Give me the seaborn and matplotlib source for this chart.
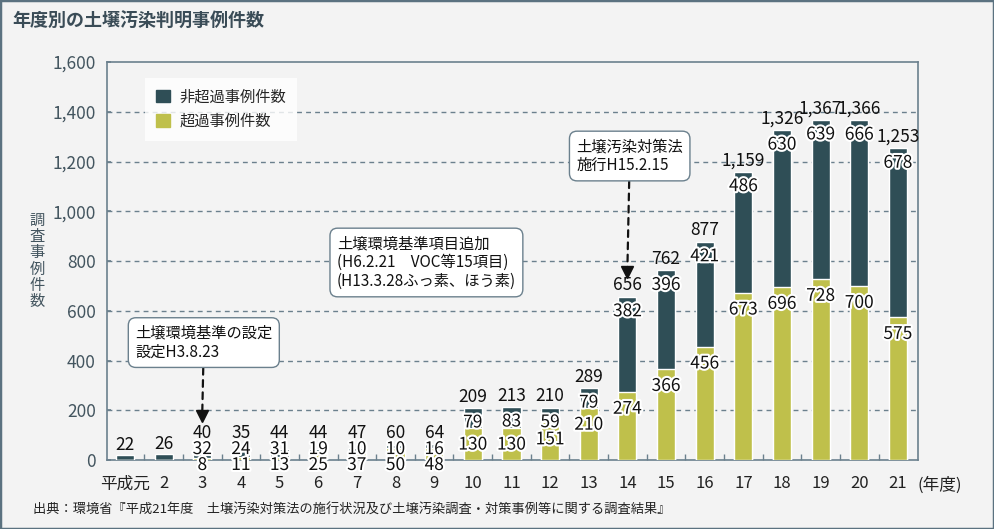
import matplotlib
matplotlib.use("Agg")
import matplotlib.pyplot as plt
import matplotlib.patheffects as pe
from matplotlib.patches import Patch, Rectangle
from matplotlib.ticker import FuncFormatter, FixedLocator
import pandas as pd
import seaborn as sns

# data
years = ["平成元", "2", "3", "4", "5", "6", "7", "8", "9", "10", "11",
         "12", "13", "14", "15", "16", "17", "18", "19", "20", "21"]
totals = [22, 26, 40, 35, 44, 44, 47, 60, 64, 209, 213, 210, 289,
          656, 762, 877, 1159, 1326, 1367, 1366, 1253]
non_exceed = [None, None, 32, 24, 31, 19, 10, 10, 16, 79, 83, 59, 79,
              382, 396, 421, 486, 630, 639, 666, 678]
exceed = [None, None, 8, 11, 13, 25, 37, 50, 48, 130, 130, 151, 210,
          274, 366, 456, 673, 696, 728, 700, 575]

DARK = "#2f4e56"
YELLOW = "#bfc04b"
FRAME = "#6b808d"
BG = "#f3f3f3"

sns.set_theme(style="white")
plt.rcParams["font.family"] = ["Noto Sans CJK JP", "DejaVu Sans"]

df = pd.DataFrame({"year": years, "total": totals,
                   "exceed": [e if e is not None else 0 for e in exceed]})

fig = plt.figure(figsize=(9.94, 5.29), dpi=100, facecolor=BG)
ax = fig.add_axes([107 / 994, 1 - 460 / 529, 811 / 994, 398 / 529])
ax.set_facecolor(BG)

sns.barplot(data=df, x="year", y="total", color=DARK, width=0.47,
            saturation=1, ax=ax, zorder=3)
sns.barplot(data=df, x="year", y="exceed", color=YELLOW, width=0.47,
            saturation=1, ax=ax, zorder=3)

ax.set_xlim(-0.465, 20.52)
ax.set_ylim(0, 1600)
ax.set_xlabel("")
ax.set_ylabel("")
ax.yaxis.set_major_locator(FixedLocator(range(0, 1601, 200)))
ax.yaxis.set_major_formatter(FuncFormatter(lambda v, p: f"{int(v):,}"))
ax.xaxis.set_minor_locator(FixedLocator([i + 0.5 for i in range(20)]))
for y in range(200, 1600, 200):
    ax.axhline(y, color=FRAME, lw=1, ls=(0, (3.5, 3)), zorder=1)

for s in ax.spines.values():
    s.set_color(FRAME)
    s.set_linewidth(1.2)
ax.tick_params(axis="y", direction="in", length=3, color=FRAME,
               labelsize=12.5, labelcolor="#43555f", pad=8, left=True)
ax.tick_params(axis="x", which="major", length=0, labelsize=12,
               labelcolor="#222222", pad=11)
ax.tick_params(axis="x", which="minor", direction="in", length=4,
               color=FRAME, bottom=True)

halo = [pe.withStroke(linewidth=3, foreground="white")]
num_kw = dict(ha="center", va="center", fontsize=12.5, color="#111111",
              zorder=6)
for i, (t, n, e) in enumerate(zip(totals, non_exceed, exceed)):
    if n is None:
        ax.text(i, t + 38, f"{t:,}", **num_kw)
    elif t < 100:
        ax.text(i, 108, f"{t:,}", **num_kw)
        ax.text(i, 44, f"{n}", path_effects=halo, **num_kw)
        ax.text(i, -20, f"{e}", path_effects=halo, clip_on=False, **num_kw)
    else:
        ax.text(i, t + 46, f"{t:,}", **num_kw)
        ax.text(i, t - 58, f"{n}", path_effects=halo, **num_kw)
        ax.text(i, e - 68, f"{e}", path_effects=halo, **num_kw)

box = dict(boxstyle="round,pad=0.45,rounding_size=0.5", fc="white",
           ec=FRAME, lw=1)
arrow = dict(arrowstyle="-", ls=(0, (3, 2.5)), lw=1.6, color="#111111",
             shrinkA=0, shrinkB=0)
note_kw = dict(fontsize=11, color="#111111", ha="center", va="center",
               multialignment="left", linespacing=1.15, bbox=box, zorder=5)

ax.annotate("土壌環境基準の設定\n設定H3.8.23", xy=(2, 190), xytext=(2.04, 472),
            arrowprops=arrow, **note_kw)
ax.plot(2, 178, marker="v", ms=9, color="#111111", zorder=6)

ax.annotate("土壌環境基準項目追加\n(H6.2.21　VOC等15項目)\n(H13.3.28ふっ素、ほう素)",
            xy=(7.8, 794), **note_kw)

ax.annotate("土壌汚染対策法\n施行H15.2.15", xy=(13, 766), xytext=(13.06, 1222),
            arrowprops=arrow, **note_kw)
ax.plot(13, 754, marker="v", ms=9, color="#111111", zorder=6)

handles = [Patch(color=DARK, label="非超過事例件数"),
           Patch(color=YELLOW, label="超過事例件数")]
leg = ax.legend(handles=handles, loc="upper left",
                bbox_to_anchor=(0.038, 0.98), fontsize=11, frameon=True,
                fancybox=False, handlelength=0.9, handleheight=0.9,
                handletextpad=0.6, labelspacing=0.5, borderpad=0.7)
leg.get_frame().set_facecolor("white")
leg.get_frame().set_edgecolor("none")
leg.set_zorder(4)

fig.text(12 / 994, 1 - 21 / 529, "年度別の土壌汚染判明事例件数", fontsize=13,
         fontweight="bold", color="#3a4c57", ha="left", va="center")
fig.text(37 / 994, 1 - 261 / 529, "\n".join("調査事例件数"), fontsize=11,
         color="#43555f", ha="center", va="center", linespacing=0.95)
fig.text(940 / 994, 1 - 485 / 529, "(年度)", fontsize=12, color="#222222",
         ha="center", va="center")
fig.text(33 / 994, 1 - 510 / 529,
         "出典：環境省『平成21年度　土壌汚染対策法の施行状況及び土壌汚染調査・対策事例等に関する調査結果』",
         fontsize=9.5, color="#222222", ha="left", va="center")

fig.patches.append(Rectangle((0, 0), 1, 1, transform=fig.transFigure,
                             fill=False, ec="#5b7280", lw=2.5))

fig.savefig("out.png", dpi=100, facecolor=BG)
